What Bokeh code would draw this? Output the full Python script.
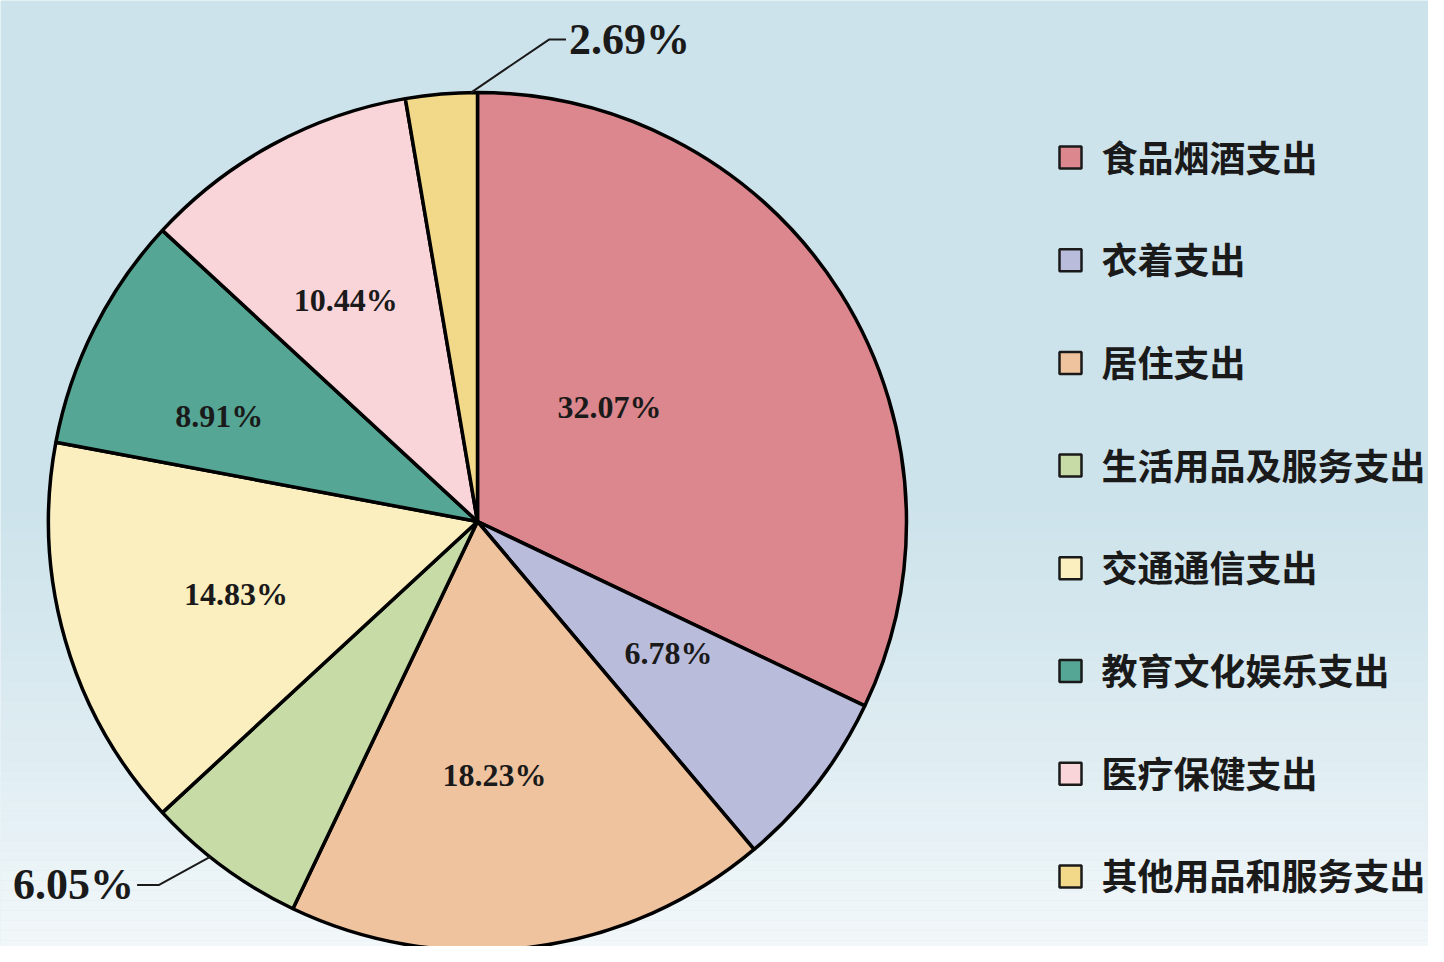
import numpy as np
from bokeh.plotting import figure
from bokeh.models import Range1d, ColumnDataSource
from bokeh.core.properties import value
from bokeh.embed import file_html
from bokeh.resources import INLINE

# ---- data ----
categories = ["食品烟酒支出", "衣着支出", "居住支出", "生活用品及服务支出",
              "交通通信支出", "教育文化娱乐支出", "医疗保健支出", "其他用品和服务支出"]
shares = [32.07, 6.78, 18.23, 6.05, 14.83, 8.91, 10.44, 2.69]
colors = ["#dc868d", "#babcdc", "#f0c39f", "#c7dba6", "#fbeebf", "#55a695", "#f9d5da", "#f2d98a"]

# ---- layout (image pixel space; y measured downwards in the picture) ----
W, H = 1428, 946
IMG_H = 962
def Y(img_y):
    return IMG_H - img_y

CX, CY, R = 477, Y(521), 429
# inside label placement: radius (px) and angle offset (deg); None -> outside label
lab_r = [175, 232, 254, None, 252, 279, 258, None]
lab_da = [8.8, 3.1, -3.5, 0, 0.6, 4.4, 2.2, 0]
# outside labels: fraction along slice for leader start, elbow offset, tail length
out_cfg = {3: dict(frac=0.6, dx=-51, dy=28, tail=-22, align="right"),
           7: dict(frac=0.91, dx=78, dy=-53, tail=17, align="left")}

p = figure(width=W, height=H, x_range=Range1d(0, W), y_range=Range1d(IMG_H - H, IMG_H),
           output_backend="svg", toolbar_location=None, min_border=0)
p.axis.visible = False
p.grid.visible = False
p.outline_line_color = None
p.background_fill_color = "#cde3eb"
p.border_fill_color = "#cde3eb"

# soft lighter sky towards the bottom (decoration)
band_top = np.arange(470, 960, 10)
alphas = np.clip((band_top - 470) / 480.0, 0, 1) ** 1.3 * 0.75
p.quad(left=0, right=W, top=[Y(t) for t in band_top], bottom=[Y(t + 10) for t in band_top],
       fill_color="white", fill_alpha=alphas, line_color=None)

# ---- pie ----
vals = np.array(shares, dtype=float)
cum = np.concatenate([[0], np.cumsum(vals)]) / vals.sum()
start = np.pi / 2 - 2 * np.pi * cum[:-1]
end = np.pi / 2 - 2 * np.pi * cum[1:]
src = ColumnDataSource(dict(start=start, end=end, color=colors, cat=categories))
p.wedge(x=CX, y=CY, radius=R, start_angle="start", end_angle="end", direction="clock",
        fill_color="color", line_color="black", line_width=3.5, source=src)

# inside labels
mid = (start + end) / 2
lx, ly, lt = [], [], []
for i, v in enumerate(shares):
    if lab_r[i] is None:
        continue
    a = mid[i] + np.deg2rad(lab_da[i])
    lx.append(CX + lab_r[i] * np.cos(a))
    ly.append(CY + lab_r[i] * np.sin(a))
    lt.append(f"{v:.2f}%")
p.text(x=lx, y=ly, text=lt, text_font=value("Liberation Serif"), text_font_style="bold",
       text_font_size="32px", text_align="center", text_baseline="middle", text_color="#1a1a1a")

# outside labels with leader lines
for i, cfg in out_cfg.items():
    a = start[i] + (end[i] - start[i]) * cfg["frac"]
    x0, y0 = CX + R * np.cos(a), CY + R * np.sin(a)
    x1, y1 = x0 + cfg["dx"], y0 - cfg["dy"]
    x2 = x1 + cfg["tail"]
    p.line(x=[x0, x1, x2], y=[y0, y1, y1], line_color="#1a1a1a", line_width=2)
    tx = x2 + (3 if cfg["align"] == "left" else -3)
    p.text(x=[tx], y=[y1], text=[f"{shares[i]:.2f}%"], text_font=value("Liberation Serif"),
           text_font_style="bold", text_font_size="44px", text_align=cfg["align"],
           text_baseline="middle", text_color="#1a1a1a")

# ---- legend ----
LEG_X, LEG_Y0, LEG_DY, SQ = 1070, 157, 102.7, 22
ly_leg = [Y(LEG_Y0 - 2 + i * LEG_DY) for i in range(len(categories))]
p.rect(x=[LEG_X] * len(categories), y=[Y(LEG_Y0 + i * LEG_DY) for i in range(len(categories))],
       width=SQ, height=SQ, fill_color=colors, line_color="#1a1a1a", line_width=2.5)
p.text(x=[LEG_X + 31] * len(categories), y=ly_leg, text=categories,
       text_font=value("Noto Sans CJK SC"), text_font_style="bold", text_font_size="36px",
       text_align="left", text_baseline="middle", text_color="#1a1a1a")

open("out.html", "w").write(file_html(p, INLINE))
